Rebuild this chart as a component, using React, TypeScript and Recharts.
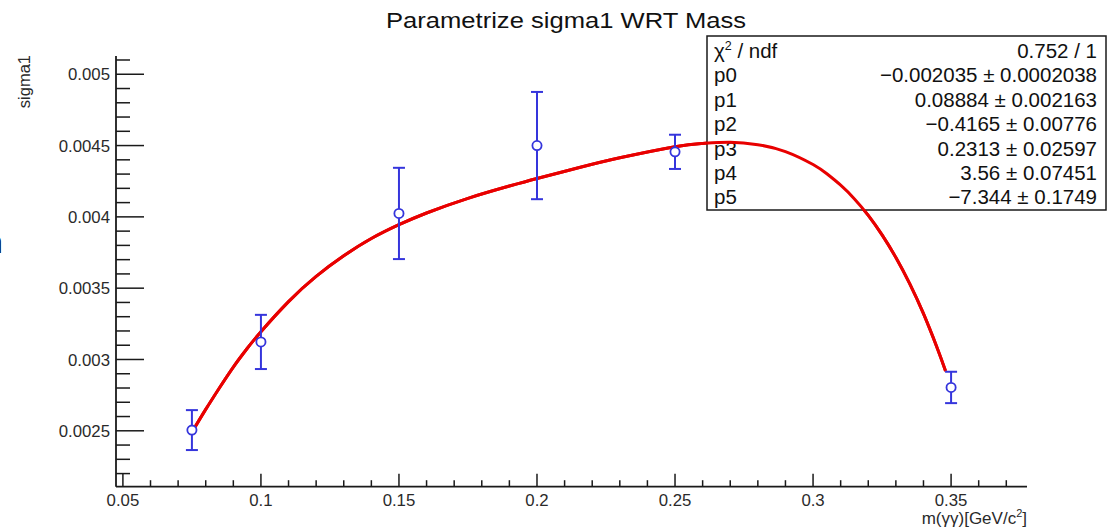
import React from 'react';
import { ComposedChart, Line, Scatter, XAxis, YAxis, ErrorBar } from 'recharts';

const chartTitle = 'Parametrize sigma1 WRT Mass';
const yTitle = 'sigma1';
const xTitleMain = 'm(\u03b3\u03b3)[GeV/c';
const xTitleSup = '2';
const leftFragment = 'n';

const massPoints = [0.075, 0.1, 0.15, 0.2, 0.25, 0.35];
const sigmaValues = [0.002505, 0.003123, 0.004024, 0.0045, 0.004456, 0.002804];
const sigmaErrors = [0.00014, 0.00019, 0.00032, 0.000376, 0.00012, 0.00011];

const fitMass = [0.075, 0.08, 0.085, 0.09, 0.095, 0.1, 0.11, 0.12, 0.13, 0.14, 0.15, 0.16, 0.175, 0.19, 0.2, 0.215, 0.23, 0.25, 0.26, 0.27, 0.28, 0.29, 0.3, 0.305, 0.31, 0.315, 0.32, 0.325, 0.33, 0.335, 0.34, 0.345, 0.348];
const fitSigma = [0.00249, 0.00265, 0.002802, 0.002947, 0.003077, 0.003195, 0.003406, 0.003583, 0.003727, 0.003848, 0.003945, 0.004027, 0.00413, 0.004216, 0.004269, 0.004344, 0.004414, 0.004492, 0.004515, 0.004523, 0.004506, 0.004458, 0.004367, 0.004302, 0.004222, 0.004126, 0.004011, 0.003874, 0.003715, 0.003532, 0.003321, 0.003079, 0.00292];

const xTicks = [0.05, 0.06, 0.07, 0.08, 0.09, 0.1, 0.11, 0.12, 0.13, 0.14, 0.15, 0.16, 0.17, 0.18, 0.19, 0.2, 0.21, 0.22, 0.23, 0.24, 0.25, 0.26, 0.27, 0.28, 0.29, 0.3, 0.31, 0.32, 0.33, 0.34, 0.35, 0.36, 0.37];
const yTicks = [0.0022, 0.0023, 0.0024, 0.0025, 0.0026, 0.0027, 0.0028, 0.0029, 0.003, 0.0031, 0.0032, 0.0033, 0.0034, 0.0035, 0.0036, 0.0037, 0.0038, 0.0039, 0.004, 0.0041, 0.0042, 0.0043, 0.0044, 0.0045, 0.0046, 0.0047, 0.0048, 0.0049, 0.005, 0.0051];

const xDomain: [number, number] = [0.0475, 0.3775];
const yDomain: [number, number] = [0.002108, 0.005128];

const statNames = ['\u03c7', 'p0', 'p1', 'p2', 'p3', 'p4', 'p5'];
const statValues = ['0.752 / 1', '\u22120.002035 \u00b1 0.0002038', '0.08884 \u00b1 0.002163', '\u22120.4165 \u00b1 0.00776', '0.2313 \u00b1 0.02597', '3.56 \u00b1 0.07451', '\u22127.344 \u00b1 0.1749'];

const pointData = massPoints.map((x, i) => ({ x, y: sigmaValues[i], err: sigmaErrors[i] }));
const fitData = fitMass.map((x, i) => ({ x, y: fitSigma[i] }));

const FONT = '"Liberation Sans", Arial, Helvetica, sans-serif';
const AXIS_COLOR = '#1a1a1a';
const TEXT_COLOR = '#2a2a2a';
const RED = '#e80000';
const BLUE = '#3535dc';

const W = 1117;
const H = 529;
const MARGIN = { top: 56, right: 90, bottom: 42.3, left: 116 };

const fmt = (v: number) => String(parseFloat(v.toFixed(6)));

const XTick = (props: any) => {
  const { x, y, payload } = props;
  const v = payload.value as number;
  const major = Math.abs(v * 20 - Math.round(v * 20)) < 1e-6;
  return (
    <g>
      <line x1={x} x2={x} y1={y} y2={y - (major ? 13 : 6.5)} stroke={AXIS_COLOR} strokeWidth={1.5} />
      {major && (
        <text x={x} y={y + 19.5} textAnchor="middle" fontSize={16.8} fontFamily={FONT} fill={TEXT_COLOR}>
          {fmt(v)}
        </text>
      )}
    </g>
  );
};

const YTick = (props: any) => {
  const { x, y, payload } = props;
  const v = payload.value as number;
  const major = Math.abs(v * 2000 - Math.round(v * 2000)) < 1e-6;
  return (
    <g>
      <line x1={x} x2={x + (major ? 28 : 14)} y1={y} y2={y} stroke={AXIS_COLOR} strokeWidth={1.5} />
      {major && (
        <text x={x - 6} y={y} dy="0.36em" textAnchor="end" fontSize={16.8} fontFamily={FONT} fill={TEXT_COLOR}>
          {fmt(v)}
        </text>
      )}
    </g>
  );
};

const frameLine = { stroke: AXIS_COLOR, strokeWidth: 1.8 };

const PointShape = (props: any) => {
  const { cx, cy } = props;
  return <circle cx={cx} cy={cy} r={4.6} fill="#ffffff" stroke={BLUE} strokeWidth={1.8} />;
};

export default function App() {
  return (
    <div style={{ position: 'absolute', left: 0, top: 0, width: W, height: H, background: '#ffffff', overflow: 'hidden' }}>
      {/* layer 1: frame, axes, fit curve */}
      <div style={{ position: 'absolute', left: 0, top: 0 }}>
        <ComposedChart width={W} height={H} margin={{ top: MARGIN.top, right: MARGIN.right, bottom: 0, left: 0 }}>
          <XAxis
            xAxisId="b"
            dataKey="x"
            type="number"
            domain={xDomain}
            allowDataOverflow
            ticks={xTicks}
            interval={0}
            tick={(p: any) => <XTick {...p} />}
            tickLine={false}
            tickSize={0}
            tickMargin={0}
            height={MARGIN.bottom}
            axisLine={frameLine}
          />
          <XAxis
            xAxisId="t"
            orientation="top"
            dataKey="x"
            type="number"
            domain={xDomain}
            allowDataOverflow
            tick={false}
            tickLine={false}
            height={0}
            axisLine={frameLine}
          />
          <YAxis
            yAxisId="l"
            type="number"
            domain={yDomain}
            allowDataOverflow
            ticks={yTicks}
            interval={0}
            tick={(p: any) => <YTick {...p} />}
            tickLine={false}
            tickSize={0}
            tickMargin={0}
            width={MARGIN.left}
            axisLine={frameLine}
          />
          <YAxis
            yAxisId="r"
            orientation="right"
            type="number"
            domain={yDomain}
            allowDataOverflow
            tick={false}
            tickLine={false}
            width={0}
            axisLine={frameLine}
          />
          <Line
            xAxisId="b"
            yAxisId="l"
            data={fitData}
            dataKey="y"
            type="natural"
            stroke={RED}
            strokeWidth={3}
            dot={false}
            isAnimationActive={false}
          />
        </ComposedChart>
      </div>

      {/* layer 2: titles and statistics box */}
      <svg width={W} height={H} style={{ position: 'absolute', left: 0, top: 0 }}>
        <text x={566} y={28} textAnchor="middle" fontSize={21.5} fontFamily={FONT} fill="#111" textLength={360} lengthAdjust="spacingAndGlyphs">
          {chartTitle}
        </text>
        <text x={30} y={55} transform="rotate(-90 30 55)" textAnchor="end" fontSize={16.5} fontFamily={FONT} fill={TEXT_COLOR}>
          {yTitle}
        </text>
        <text x={1027} y={524} textAnchor="end" fontSize={17} fontFamily={FONT} fill={TEXT_COLOR}>
          {xTitleMain}
          <tspan fontSize={11} dy={-7}>{xTitleSup}</tspan>
          <tspan dy={7}>]</tspan>
        </text>
        <text x={-15} y={253} fontSize={32} fontFamily={FONT} fill="#000">{leftFragment}</text>
        <rect x={707} y={36} width={399} height={174} fill="#ffffff" stroke="#1a1a1a" strokeWidth={1.5} />
        {statNames.map((n, i) => (
          <g key={n}>
            <text x={714} y={58 + i * 24.4} fontSize={20.5} fontFamily={FONT} fill="#111">
              {i === 0 ? (
                <>
                  {n}
                  <tspan fontSize={12.5} dy={-8}>2</tspan>
                  <tspan dy={8}> / ndf</tspan>
                </>
              ) : (
                n
              )}
            </text>
            <text x={1097} y={58 + i * 24.4} textAnchor="end" fontSize={20.5} fontFamily={FONT} fill="#111">
              {statValues[i]}
            </text>
          </g>
        ))}
      </svg>

      {/* layer 3: fit curve over the box, data points */}
      <div style={{ position: 'absolute', left: 0, top: 0 }}>
        <ComposedChart width={W} height={H} margin={MARGIN}>
          <XAxis xAxisId="b" dataKey="x" type="number" domain={xDomain} allowDataOverflow hide />
          <YAxis yAxisId="l" type="number" domain={yDomain} allowDataOverflow hide />
          <Line
            xAxisId="b"
            yAxisId="l"
            data={fitData}
            dataKey="y"
            type="natural"
            stroke={RED}
            strokeWidth={3}
            dot={false}
            isAnimationActive={false}
          />
          <Scatter
            xAxisId="b"
            yAxisId="l"
            data={pointData}
            dataKey="y"
            shape={(p: any) => <PointShape {...p} />}
            isAnimationActive={false}
          >
            <ErrorBar dataKey="err" direction="y" width={6} stroke={BLUE} strokeWidth={2} isAnimationActive={false} />
          </Scatter>
        </ComposedChart>
      </div>
    </div>
  );
}
